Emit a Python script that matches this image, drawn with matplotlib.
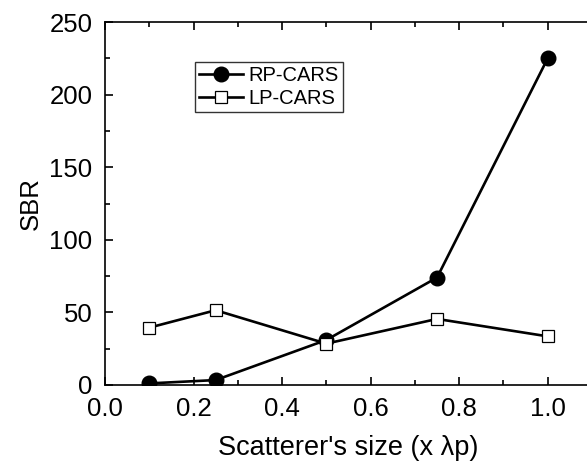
import matplotlib
matplotlib.use("Agg")
import matplotlib.pyplot as plt
from matplotlib.ticker import MultipleLocator

plt.rcParams['font.family'] = ['Liberation Sans', 'DejaVu Sans']

# scatterer size (x lambda_p)
size = [0.1, 0.25, 0.5, 0.75, 1.0]
sbr_rp = [1.1, 3.4, 31, 74, 225]
sbr_lp = [39.5, 51.5, 28.5, 45.5, 33.5]

fig = plt.figure(figsize=(5.87, 4.62), dpi=100)
ax = fig.add_axes([105/587, 77/462, 487/587, 363/462])

ax.plot(size, sbr_rp, color='black', lw=1.9, marker='o', ms=10.5,
        mfc='black', mec='black', label='RP-CARS')
ax.plot(size, sbr_lp, color='black', lw=1.9, marker='s', ms=9,
        mfc='white', mec='black', mew=0.9, label='LP-CARS')

ax.set_xlim(0, 1.1)
ax.set_ylim(0, 250)
ax.xaxis.set_major_locator(MultipleLocator(0.2))
ax.xaxis.set_minor_locator(MultipleLocator(0.1))
ax.yaxis.set_major_locator(MultipleLocator(50))
ax.yaxis.set_minor_locator(MultipleLocator(25))
ax.xaxis.set_major_formatter(plt.FormatStrFormatter('%.1f'))
ax.tick_params(which='both', direction='in', top=True, right=False,
               labelsize=18.5, pad=9)
ax.tick_params(which='major', length=6, width=1.2)
ax.tick_params(which='minor', length=3.5, width=1.2)
for s in ax.spines.values():
    s.set_linewidth(1.2)

ax.set_xlabel("Scatterer's size (x \u03bbp)", fontsize=19.5, labelpad=10)
ax.set_ylabel("SBR", fontsize=18.5, labelpad=5)

leg = ax.legend(loc='upper left', bbox_to_anchor=(0.185, 0.89), fontsize=14.5,
                frameon=True, fancybox=False, edgecolor='black',
                handlelength=2.2, handletextpad=0.25, borderpad=0.2,
                labelspacing=0.2, borderaxespad=0)
leg.get_frame().set_linewidth(1.0)

fig.savefig('out.png', dpi=100)
